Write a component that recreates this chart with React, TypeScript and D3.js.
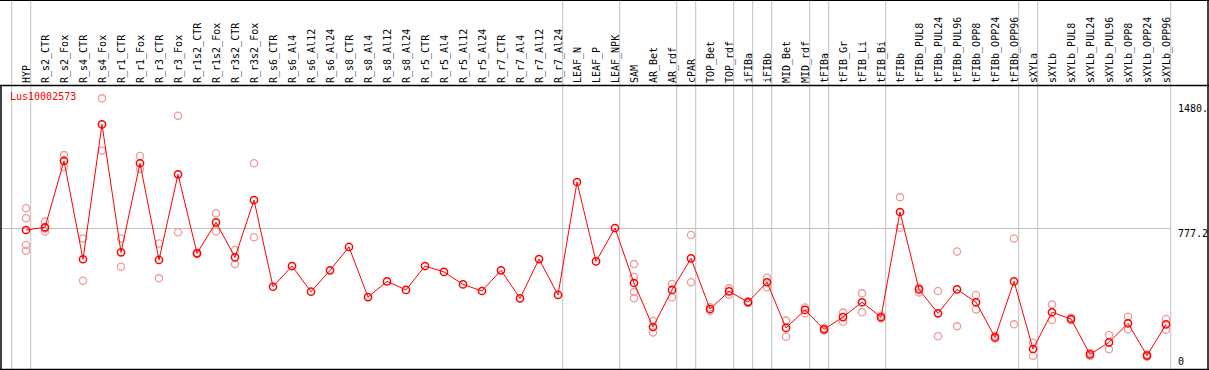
import React from 'react';
import * as d3 from 'd3';

const samples = [
  'HYP', 'R_s2_CTR', 'R_s2_Fox', 'R_s4_CTR', 'R_s4_Fox', 'R_r1_CTR', 'R_r1_Fox', 'R_r3_CTR', 'R_r3_Fox',
  'R_r1s2_CTR', 'R_r1s2_Fox', 'R_r3s2_CTR', 'R_r3s2_Fox', 'R_s6_CTR', 'R_s6_Al4', 'R_s6_Al12', 'R_s6_Al24',
  'R_s8_CTR', 'R_s8_Al4', 'R_s8_Al12', 'R_s8_Al24', 'R_r5_CTR', 'R_r5_Al4', 'R_r5_Al12', 'R_r5_Al24',
  'R_r7_CTR', 'R_r7_Al4', 'R_r7_Al12', 'R_r7_Al24', 'LEAF_N', 'LEAF_P', 'LEAF_NPK', 'SAM', 'AR_Bet', 'AR_rdf',
  'cPAR', 'TOP_Bet', 'TOP_rdf', 'iFIBa', 'iFIBb', 'MID_Bet', 'MID_rdf', 'tFIBa', 'tFIB_Gr', 'tFIB_Li', 'tFIB_Bi',
  'tFIBb', 'tFIBb_PUL8', 'tFIBb_PUL24', 'tFIBb_PUL96', 'tFIBb_OPP8', 'tFIBb_OPP24', 'tFIBb_OPP96',
  'sXYLa', 'sXYLb', 'sXYLb_PUL8', 'sXYLb_PUL24', 'sXYLb_PUL96', 'sXYLb_OPP8', 'sXYLb_OPP24', 'sXYLb_OPP96',
];

// mean expression per sample
const means = [
  768, 783, 1155, 604, 1360, 643, 1142, 600, 1080, 637, 811, 615, 936, 450, 566, 422, 542,
  673, 392, 480, 432, 566, 533, 463, 426, 542, 385, 605, 404, 1037, 592, 779, 471, 224, 432,
  609, 325, 424, 364, 475, 219, 320, 211, 280, 363, 279, 869, 435, 301, 435, 363, 166, 480,
  101, 307, 269, 71, 138, 245, 64, 239,
];

// individual replicates (empty where none are drawn)
const replicates: number[][] = [
  [890, 834, 684, 652], [815, 759, 776], [1188, 1120, 1157], [721, 484], [1506, 1213], [721, 562],
  [1183, 1110], [693, 497], [1409, 755], [640, 634], [862, 759], [656, 577], [1142, 727],
  [], [], [], [], [], [], [], [], [], [], [], [], [], [], [], [], [], [], [],
  [577, 505, 420, 385], [258, 194], [465, 391], [740, 475], [335, 315], [441, 405], [368, 360],
  [501, 447], [260, 170], [334, 301], [219, 204], [305, 254], [413, 307], [288, 272],
  [951, 781], [445, 418], [426, 172], [648, 228], [404, 323], [175, 160], [721, 239],
  [136, 63], [351, 263], [276, 262], [80, 62], [179, 99], [282, 211], [70, 58], [269, 209],
];

// index of the last sample in each group (-1 = leading line)
const groupEnds = [-1, 0, 28, 31, 34, 35, 37, 38, 39, 41, 42, 45, 52, 53, 60];

const yTicks = [
  { v: 1480, label: '1480.' },
  { v: 777.2, label: '777.2' },
  { v: 0, label: '0' },
];
const gridValues = [777.2];
const geneName = 'Lus10002573';

const W = 1209;
const H = 370;
const FONT = '"DejaVu Sans Mono", monospace';

export default function App() {
  const x = d3.scaleLinear().domain([0, samples.length - 1]).range([26, 1166]);
  const y = d3.scaleLinear().domain([0, 1480]).range([367, 103]);
  const line = d3.line<number>().x((_, i) => x(i)).y(d => y(d));
  const headerY = 86;
  const plotRight = 1170.5;

  return (
    <svg width={W} height={H} style={{ position: 'absolute', left: 0, top: 0 }} fontFamily={FONT}>
      <rect width={W} height={H} fill="#fff" />
      {groupEnds.map(g => (
        <line key={g} x1={x(g) + 4.7} x2={x(g) + 4.7} y1={0} y2={H} stroke="#c0c0c0" strokeWidth={1} />
      ))}
      {gridValues.map(v => (
        <line key={v} x1={0} x2={plotRight} y1={Math.round(y(v)) + 0.5} y2={Math.round(y(v)) + 0.5} stroke="#c0c0c0" />
      ))}
      <line x1={0} x2={W} y1={0.5} y2={0.5} stroke="#000" />
      <line x1={0} x2={W} y1={headerY - 0.5} y2={headerY - 0.5} stroke="#000" strokeWidth={1.5} />
      <line x1={0} x2={W} y1={369.5} y2={369.5} stroke="#000" strokeWidth={1.5} />
      <line x1={1} x2={1} y1={headerY} y2={H} stroke="#000" strokeWidth={1.5} />
      <line x1={W - 1} x2={W - 1} y1={0} y2={H} stroke="#000" strokeWidth={1.5} />

      {samples.map((s, i) => (
        <text key={s} transform={`translate(${x(i) + 3.5},83) rotate(-90)`} fontSize={10} fill="#000">
          {s}
        </text>
      ))}

      {yTicks.map(t => (
        <text
          key={t.label}
          x={1178}
          y={t.v === 0 ? 365 : y(t.v) + 8.5}
          fontSize={10}
          fill="#000"
        >
          {t.label}
        </text>
      ))}

      <text x={10} y={100} fontSize={10} fill="#ff0000">{geneName}</text>

      {replicates.map((reps, i) =>
        reps.map((r, j) => (
          <circle key={`${i}-${j}`} cx={x(i)} cy={y(r)} r={3.6} fill="none" stroke="#f09a9a" strokeWidth={1.3} />
        ))
      )}
      <path d={line(means) || ''} fill="none" stroke="#ff0000" strokeWidth={1} />
      {means.map((m, i) => (
        <circle key={i} cx={x(i)} cy={y(m)} r={3.6} fill="none" stroke="#ff0000" strokeWidth={1.5} />
      ))}
    </svg>
  );
}
